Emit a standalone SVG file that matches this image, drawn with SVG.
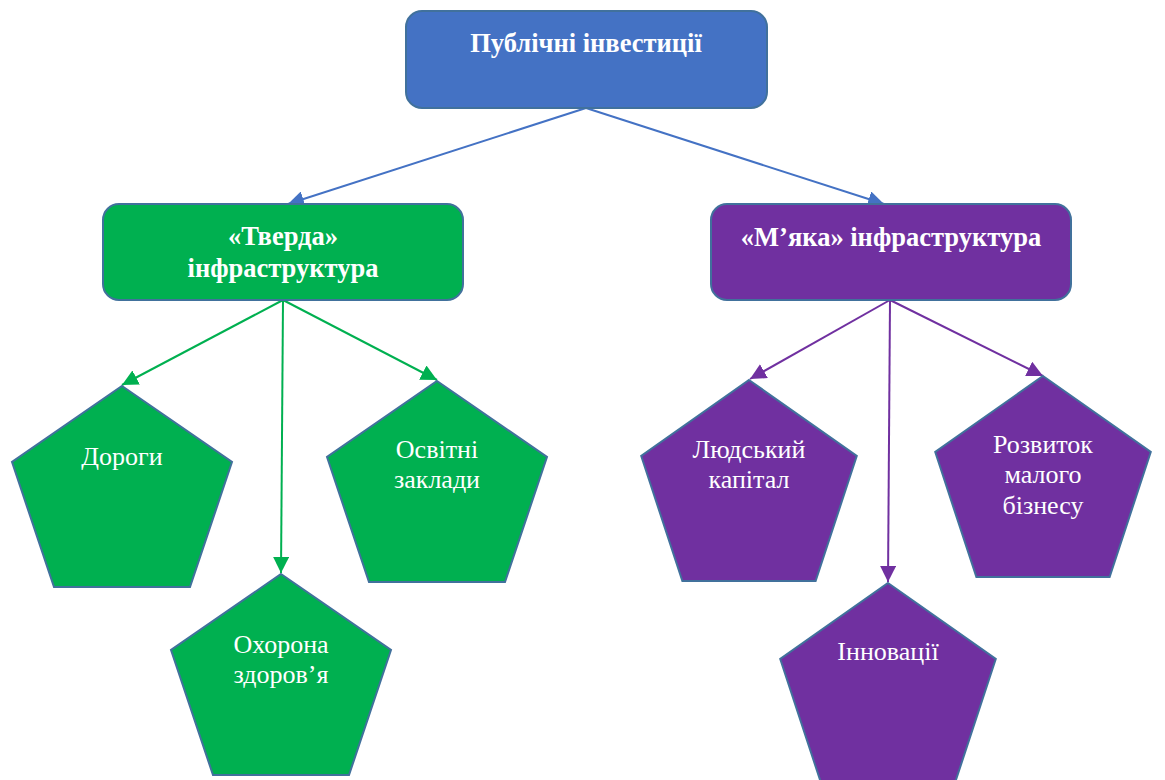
<svg xmlns="http://www.w3.org/2000/svg" width="1165" height="780" viewBox="0 0 1165 780">
<style>
.box{stroke:#41719C;stroke-width:2}
.pent{stroke:#41719C;stroke-width:2}
.t{fill:#fff;text-anchor:middle}
.tb{font-size:26.5px;font-weight:bold}
.tn{font-size:26px}
.c{fill:none;stroke-width:2}
</style>
<defs>
<marker id="ab" markerUnits="userSpaceOnUse" markerWidth="17" markerHeight="16" refX="16" refY="8" orient="auto"><path d="M0,0 L16,8 L0,16 Z" fill="#4472C4"/></marker>
<marker id="ag" markerUnits="userSpaceOnUse" markerWidth="17" markerHeight="16" refX="16" refY="8" orient="auto"><path d="M0,0 L16,8 L0,16 Z" fill="#00B050"/></marker>
<marker id="ap" markerUnits="userSpaceOnUse" markerWidth="17" markerHeight="16" refX="16" refY="8" orient="auto"><path d="M0,0 L16,8 L0,16 Z" fill="#7030A0"/></marker>
<path id="pg" d="M0,0 L110,76 L68,201 L-68,201 L-110,76 Z"/>
</defs>
<g id="connectors">
<line class="c" x1="586" y1="108" x2="288" y2="204" stroke="#4472C4" marker-end="url(#ab)"/>
<line class="c" x1="586" y1="108" x2="884" y2="204" stroke="#4472C4" marker-end="url(#ab)"/>
<line class="c" x1="283" y1="300" x2="122" y2="385" stroke="#00B050" marker-end="url(#ag)"/>
<line class="c" x1="283" y1="300" x2="281" y2="573" stroke="#00B050" marker-end="url(#ag)"/>
<line class="c" x1="283" y1="300" x2="437" y2="380" stroke="#00B050" marker-end="url(#ag)"/>
<line class="c" x1="890" y1="300" x2="750" y2="379" stroke="#7030A0" marker-end="url(#ap)"/>
<line class="c" x1="890" y1="300" x2="888" y2="582" stroke="#7030A0" marker-end="url(#ap)"/>
<line class="c" x1="890" y1="300" x2="1043" y2="376" stroke="#7030A0" marker-end="url(#ap)"/>
</g>
<g font-family="'Liberation Serif', Tinos, 'Times New Roman', 'DejaVu Serif', serif">
<g id="n-public">
<rect class="box" x="406" y="11" width="361" height="97" rx="16" fill="#4472C4"/>
<text class="t tb" x="586" y="52">Публічні інвестиції</text>
</g>
<g id="n-hard">
<rect class="box" x="103" y="204" width="360" height="96" rx="16" fill="#00B050"/>
<text class="t tb" x="283" y="245">«Тверда»</text>
<text class="t tb" x="283" y="277">інфраструктура</text>
</g>
<g id="n-soft">
<rect class="box" x="711" y="204" width="360" height="96" rx="16" fill="#7030A0"/>
<text class="t tb" x="891" y="246">«М’яка» інфраструктура</text>
</g>
<g id="n-roads">
<use href="#pg" class="pent" fill="#00B050" transform="translate(122,386)"/>
<text class="t tn" x="122" y="465">Дороги</text>
</g>
<g id="n-health">
<use href="#pg" class="pent" fill="#00B050" transform="translate(281,574)"/>
<text class="t tn" x="281" y="653">Охорона</text>
<text class="t tn" x="281" y="683">здоров’я</text>
</g>
<g id="n-edu">
<use href="#pg" class="pent" fill="#00B050" transform="translate(437,381)"/>
<text class="t tn" x="437" y="458">Освітні</text>
<text class="t tn" x="437" y="488">заклади</text>
</g>
<g id="n-human">
<use href="#pg" class="pent" fill="#7030A0" transform="translate(749,380) scale(0.98,1)"/>
<text class="t tn" x="749" y="458">Людський</text>
<text class="t tn" x="749" y="488">капітал</text>
</g>
<g id="n-innov">
<use href="#pg" class="pent" fill="#7030A0" transform="translate(888,583) scale(0.98,1)"/>
<text class="t tn" x="888" y="660">Інновації</text>
</g>
<g id="n-sme">
<use href="#pg" class="pent" fill="#7030A0" transform="translate(1043,376) scale(0.98,1)"/>
<text class="t tn" x="1043" y="453">Розвиток</text>
<text class="t tn" x="1043" y="483">малого</text>
<text class="t tn" x="1043" y="514">бізнесу</text>
</g>
</g>
</svg>
